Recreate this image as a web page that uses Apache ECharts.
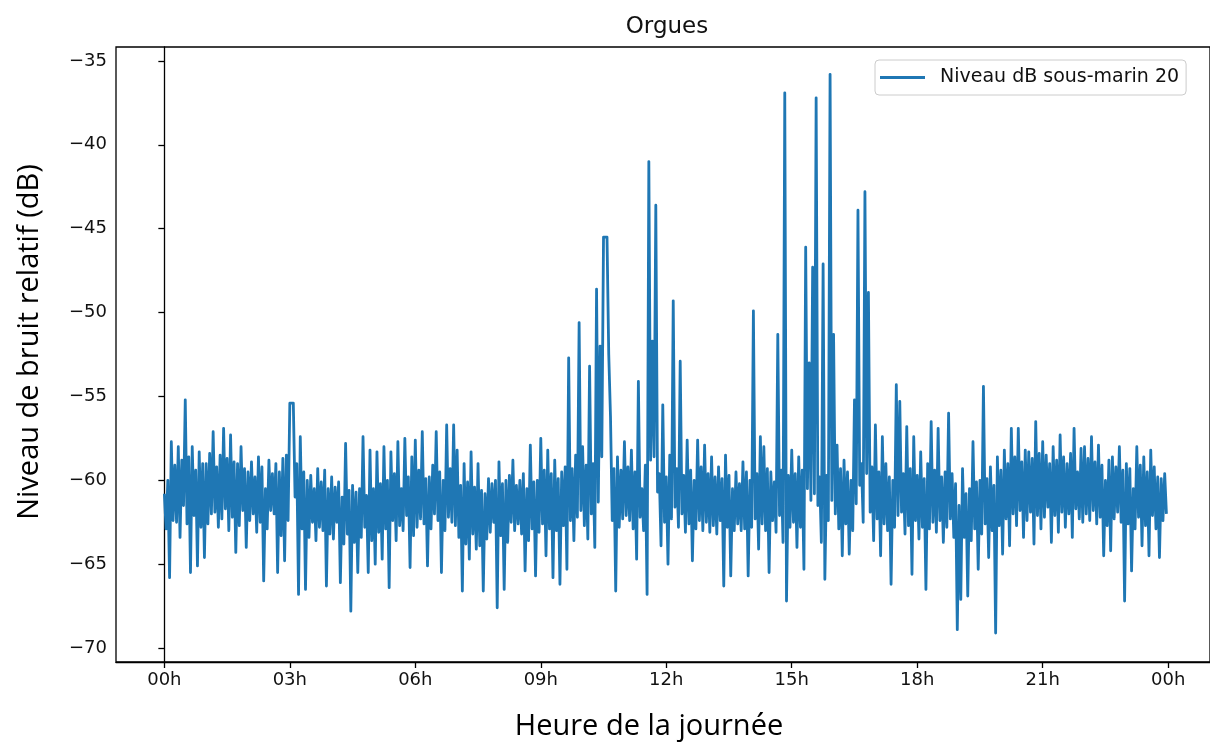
<!DOCTYPE html>
<html>
<head>
<meta charset="utf-8">
<script src="https://cdn.jsdelivr.net/npm/echarts@6/dist/echarts.min.js"></script>
<style>
html,body{margin:0;padding:0;background:#fff;}
#chart{width:1210px;height:744px;}
</style>
</head>
<body>
<div id="chart"></div>
<script>
// Title and labels
const chartTitle = "Orgues";
const seriesName = "Niveau dB sous-marin 20";
const xAxisTitle = "Heure de la journée";
const yAxisTitle = "Niveau de bruit relatif (dB)";

// Tick positions (hours) and y tick values
const xTickHours = [0, 3, 6, 9, 12, 15, 18, 21, 24];
const yTickValues = [-70, -65, -60, -55, -50, -45, -40, -35];

// Sampling step of the series, minutes
const stepMinutes = 2.5;

// Noise level (dB), one value every 2.5 minutes, one array per hour
const h00 = [-60.8,-62.9,-60.0,-65.8,-57.7,-62.4,-59.1,-62.5,-58.0,-63.4,-58.8,-61.5,-55.2,-62.6,-58.6,-65.5,-58.0,-62.1,-59.4,-65.1,-58.3,-62.8,-59.0,-64.6];
const h01 = [-59.0,-62.6,-58.4,-62.0,-57.1,-61.9,-59.2,-62.8,-58.5,-62.3,-56.9,-61.7,-58.7,-63.0,-57.3,-62.2,-58.9,-64.3,-59.0,-62.7,-58.0,-61.8,-59.3,-64.0];
const h02 = [-59.5,-62.4,-58.9,-62.0,-59.8,-63.1,-58.6,-62.5,-59.2,-66.0,-60.5,-62.9,-58.8,-61.8,-59.6,-62.0,-59.0,-65.5,-59.5,-63.3,-58.7,-64.8,-58.5,-62.4];
const h03 = [-55.4,-55.5,-55.4,-61.0,-59.0,-66.8,-57.4,-62.9,-59.5,-66.5,-60.0,-63.4,-59.7,-62.5,-60.5,-63.6,-59.3,-62.8,-60.1,-63.0,-59.4,-66.3,-60.5,-63.2];
const h04 = [-59.8,-63.5,-60.4,-62.5,-60.1,-66.1,-61.0,-63.8,-57.8,-63.2,-60.6,-67.8,-60.3,-63.7,-60.7,-65.5,-60.5,-63.4,-57.4,-62.8,-60.9,-65.5,-58.2,-63.6];
const h05 = [-60.5,-65.0,-58.3,-63.1,-60.2,-64.7,-58.0,-62.9,-60.0,-66.4,-58.3,-62.4,-59.6,-63.6,-57.7,-62.7,-60.5,-63.0,-57.5,-62.1,-59.8,-65.2,-58.6,-63.3];
const h06 = [-57.6,-62.8,-59.4,-62.3,-57.1,-62.6,-59.9,-65.1,-59.8,-62.9,-59.1,-62.0,-57.1,-62.4,-59.5,-65.5,-60.0,-63.0,-56.7,-62.2,-59.3,-62.5,-56.7,-62.7];
const h07 = [-58.2,-63.4,-60.3,-66.6,-59.0,-63.8,-60.1,-64.7,-58.3,-63.2,-60.4,-64.1,-59.0,-63.9,-60.6,-66.6,-60.8,-63.5,-59.9,-63.1,-60.2,-62.5,-60.0,-67.6];
const h08 = [-58.9,-63.3,-60.2,-66.5,-60.0,-63.7,-59.7,-62.5,-58.8,-63.0,-60.3,-62.6,-60.0,-63.2,-59.6,-65.4,-60.5,-63.6,-57.9,-62.9,-60.1,-65.7,-60.0,-63.1];
const h09 = [-57.5,-62.6,-59.4,-64.5,-58.2,-62.9,-59.6,-65.8,-58.8,-63.0,-59.9,-66.2,-59.5,-62.7,-59.2,-65.3,-52.7,-62.4,-59.3,-63.6,-58.5,-62.2,-50.6,-61.8];
const h10 = [-58.0,-62.7,-59.1,-63.5,-53.2,-62.0,-59.0,-64.0,-48.6,-61.3,-52.0,-58.6,-45.5,-45.6,-45.5,-52.5,-56.2,-62.4,-59.3,-66.6,-58.6,-62.8,-59.4,-62.3];
const h11 = [-57.7,-62.1,-59.2,-62.4,-58.2,-62.9,-59.5,-64.7,-54.1,-62.2,-60.5,-63.0,-59.1,-66.8,-41.0,-58.8,-51.7,-58.6,-43.6,-60.7,-59.6,-63.9,-55.5,-62.5];
const h12 = [-59.8,-65.0,-58.5,-62.3,-49.3,-61.6,-59.3,-62.8,-52.9,-62.0,-59.7,-63.1,-57.6,-62.6,-59.4,-64.8,-60.0,-62.9,-57.6,-62.4,-59.2,-63.0,-57.9,-62.5];
const h13 = [-59.6,-63.1,-58.6,-62.7,-59.8,-63.2,-59.2,-62.4,-59.9,-66.3,-58.5,-62.8,-59.7,-65.7,-60.5,-63.0,-59.5,-62.6,-60.2,-63.0,-58.9,-62.9,-59.5,-65.7];
const h14 = [-60.0,-62.8,-49.9,-62.3,-59.6,-64.1,-57.4,-62.6,-58.0,-63.0,-59.3,-65.5,-59.5,-62.4,-60.1,-63.1,-51.3,-62.1,-59.4,-63.7,-36.9,-67.2,-59.7,-62.8];
const h15 = [-58.2,-62.5,-59.6,-64.0,-58.6,-62.8,-59.4,-65.3,-46.1,-60.5,-53.0,-61.2,-47.3,-60.8,-37.2,-61.5,-59.8,-63.7,-47.1,-65.9,-59.7,-62.4,-35.8,-61.2];
const h16 = [-51.3,-62.0,-57.9,-62.9,-59.3,-64.5,-58.8,-62.6,-59.5,-64.4,-60.0,-63.0,-55.2,-61.4,-43.9,-60.3,-59.0,-62.5,-42.8,-59.6,-48.8,-61.9,-59.2,-63.6];
const h17 = [-56.7,-62.3,-59.5,-64.5,-57.4,-62.6,-59.0,-63.0,-59.8,-66.2,-60.0,-62.8,-54.3,-62.1,-55.3,-61.9,-59.6,-63.2,-56.8,-62.7,-59.3,-65.6,-57.4,-62.4];
const h18 = [-59.7,-63.5,-58.3,-62.8,-59.9,-66.5,-59.0,-62.9,-56.5,-62.5,-59.4,-63.1,-56.9,-62.4,-59.8,-63.7,-59.5,-62.8,-56.0,-62.3,-59.6,-63.4,-60.2,-68.9];
const h19 = [-61.5,-67.1,-59.3,-63.4,-60.8,-66.9,-60.5,-63.6,-57.7,-62.9,-60.1,-65.3,-60.0,-63.2,-54.4,-62.6,-59.9,-64.6,-59.2,-63.0,-60.3,-69.1,-58.6,-62.7];
const h20 = [-59.4,-64.4,-58.2,-62.3,-59.0,-63.9,-56.9,-62.0,-58.6,-62.7,-56.9,-61.8,-58.9,-63.4,-58.2,-62.4,-58.3,-61.9,-58.7,-63.8,-56.5,-62.1,-58.4,-62.9];
const h21 = [-57.7,-62.2,-58.5,-61.6,-59.0,-63.7,-58.0,-62.1,-58.8,-63.1,-57.3,-61.9,-58.6,-62.8,-59.0,-62.0,-58.4,-63.4,-56.9,-61.7,-59.5,-62.3,-58.1,-62.5];
const h22 = [-58.0,-62.0,-58.7,-62.4,-57.4,-61.8,-58.9,-62.6,-57.9,-62.2,-59.1,-64.5,-60.0,-62.7,-58.8,-64.2,-58.6,-62.3,-59.2,-61.9,-58.0,-62.5,-59.4,-67.2];
const h23 = [-59.0,-62.6,-59.3,-65.4,-60.5,-62.9,-58.0,-62.2,-59.1,-63.9,-58.6,-62.7,-59.5,-64.5,-58.2,-62.1,-59.2,-62.9,-59.8,-64.6,-59.9,-62.4,-59.6,-62.0];

const levels = [].concat(h00, h01, h02, h03, h04, h05, h06, h07, h08, h09, h10, h11,
  h12, h13, h14, h15, h16, h17, h18, h19, h20, h21, h22, h23);

const seriesData = levels.map((v, i) => [i * stepMinutes / 60, v]);

const chart = echarts.init(document.getElementById('chart'), null, {renderer: 'canvas'});

const tickFont = 'DejaVu Sans';
const minus = v => (v < 0 ? '\u2212' + Math.abs(v) : String(v));
const hourLabel = h => String(h % 24).padStart(2, '0') + 'h';

chart.setOption({
  animation: false,
  backgroundColor: '#ffffff',
  grid: {
    left: 116, top: 47, right: -3, bottom: 82,
    show: true, borderColor: '#000', borderWidth: 1.3, backgroundColor: 'transparent'
  },
  graphic: [
    {type: 'text', x: 667, y: 27,
      style: {text: chartTitle, font: '23px "DejaVu Sans"', fill: '#111', align: 'center', verticalAlign: 'middle'}},
    {type: 'text', x: 649, y: 727,
      style: {text: xAxisTitle, font: '29px "Open Sans"', fill: '#000', align: 'center', verticalAlign: 'middle'}},
    {type: 'text', x: 30, y: 342, rotation: Math.PI / 2,
      style: {text: yAxisTitle, font: '29px "Open Sans"', fill: '#000', align: 'center', verticalAlign: 'middle'}}
  ],
  legend: {
    show: true,
    left: 875, top: 60,
    orient: 'horizontal',
    data: [{name: seriesName, icon: 'rect'}],
    itemWidth: 45, itemHeight: 3,
    padding: [8, 7, 8, 5],
    borderColor: '#cccccc', borderWidth: 1, borderRadius: 4,
    backgroundColor: 'rgba(255,255,255,0.8)',
    textStyle: {fontFamily: tickFont, fontSize: 19, color: '#111', padding: [0, 0, 0, 10]}
  },
  xAxis: {
    type: 'value',
    min: -1.156, max: 25.0,
    axisLine: {show: true, lineStyle: {color: '#000', width: 1.3}},
    axisTick: {show: true, length: 6, lineStyle: {color: '#000', width: 1.3}, customValues: xTickHours},
    axisLabel: {show: true, customValues: xTickHours, formatter: hourLabel,
      fontFamily: tickFont, fontSize: 18, color: '#111', margin: 9},
    splitLine: {show: false}
  },
  yAxis: {
    type: 'value',
    min: -70.83, max: -34.17,
    axisLine: {show: true, lineStyle: {color: '#000', width: 1.3}},
    axisTick: {show: true, length: 6, lineStyle: {color: '#000', width: 1.3}, customValues: yTickValues},
    axisLabel: {show: true, customValues: yTickValues, formatter: minus,
      fontFamily: tickFont, fontSize: 18, color: '#111', margin: 9},
    splitLine: {show: false}
  },
  series: [{
    name: seriesName,
    type: 'line',
    data: seriesData,
    showSymbol: false,
    symbol: 'none',
    sampling: null,
    lineStyle: {color: '#1f77b4', width: 2.8, join: 'round'},
    itemStyle: {color: '#1f77b4'},
    clip: true
  }]
});
</script>
</body>
</html>
